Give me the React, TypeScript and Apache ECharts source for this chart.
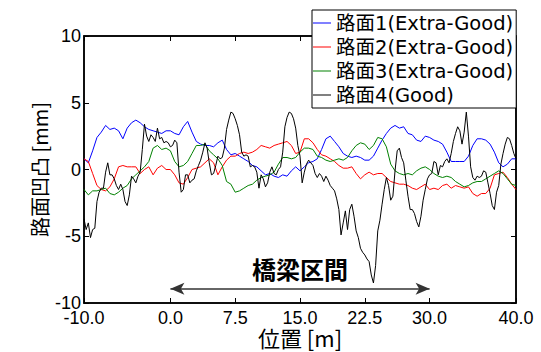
import React, { useEffect, useRef } from "react";
import * as echarts from "echarts";

// Positions (m): blue/red/green sampled every 0.5 m, black every 0.25 m
const POS_START = -10;
const POS_STEP_SMOOTH = 0.5;
const POS_STEP_ROUGH = 0.25;

const SERIES_NAMES = [
  "路面1(Extra-Good)",
  "路面2(Extra-Good)",
  "路面3(Extra-Good)",
  "路面4(Good)",
];
const SERIES_COLORS = ["#0000ff", "#ff0000", "#008000", "#000000"];

const road1 = [
  0.8, 0.5, 1.4, 2.4, 2.8, 3.3, 3.0, 3.1, 2.9, 2.3,
  3.1, 3.5, 3.7, 3.5, 3.2, 3.0, 2.9, 2.8, 2.7, 2.9,
  2.9, 2.7, 2.6, 3.2, 3.6, 2.8, 2.1, 1.9, 1.8, 1.8,
  1.7, 2.0, 2.2, 1.5, 1.1, 1.2, 1.0, 0.8, 0.6, 0.3,
  0.2, -0.1, -0.4, -0.3, -0.5, -0.6, -0.4, -0.5, -0.1, 0.2,
  -0.1, 0.2, 0.5, 0.6, 0.8, 1.5, 2.3, 2.5, 2.1, 1.7,
  1.2, 1.0, 0.9, 1.0, 0.9, 0.7, 0.7, 1.0, 1.6, 2.2,
  2.7, 3.1, 3.3, 3.1, 3.2, 2.7, 2.6, 2.2, 2.1, 2.5,
  2.4, 2.2, 2.1, 1.9, 1.3, 0.6, 0.6, 0.6, 0.6, 1.0,
  1.8, 2.3, 2.3, 2.2, 1.9, 1.3, 0.5, 0.2, 0.4, 0.8,
  0.8,
];

const road2 = [
  0.8, 0.6, -0.3, -1.2, -1.5, -1.6, -1.3, -0.7, 0.2, 0.3,
  0.2, 0.2, 0.2, -0.3, 0.0, 0.2, -0.4, 0.1, 0.3, 0.0,
  0.0, -0.4, -1.0, -1.1, -0.6, 0.0, 0.1, 0.2, 0.5, 0.8,
  0.5, -0.4, 0.2, 0.7, 1.0, 1.0, 1.2, 1.3, 1.2, 1.3,
  1.5, 1.8, 1.7, 1.6, 1.8, 1.9, 2.0, 2.1, 1.8, 1.2,
  1.3, 2.3, 2.3, 2.0, 1.5, 1.1, 1.0, 0.8, 0.6, 0.3,
  0.1, 0.1, 0.2, -0.3, -0.7, -0.4, -0.2, -0.4, -0.3, -0.3,
  -0.6, -0.9, -1.0, -1.1, -1.1, -1.2, -1.4, -1.5, -1.3, -1.1,
  -1.5, -1.4, -1.5, -1.2, -1.1, -1.4, -1.2, -1.3, -1.4, -1.3,
  -1.8, -2.0, -1.8, -1.8, -1.4, -0.4, -0.3, -0.2, -0.6, -1.1,
  -1.5,
];

const road3 = [
  -1.5, -1.9, -1.6, -1.6, -1.5, -1.4, -1.8, -1.9, -1.7, -1.4,
  -1.2, -0.7, -0.4, -0.1, 0.2, 0.6, 1.6, 1.8, 1.5, 1.6,
  1.4, 0.6, 0.2, 0.3, 0.6, 1.2, 1.8, 1.8, 1.9, 1.4,
  1.1, 0.8, 0.3, -0.9, -1.1, -1.7, -1.6, -1.4, -1.2, -1.1,
  -0.8, -0.6, -0.5, -0.4, -0.2, 0.4, 0.9, 0.9, 0.8, 0.9,
  1.3, 1.6, 1.6, 1.5, 1.0, 0.9, 0.7, 0.6, 0.7, 0.8,
  0.7, 0.9, 1.4, 1.8, 2.0, 1.9, 1.5, 1.8, 2.4, 2.3,
  1.7, 0.4, -0.1, -0.3, -0.4, -0.3, -0.4, -0.1, 0.1, 0.2,
  0.0, -0.3, -0.5, -0.6, -0.5, -0.6, -0.9, -1.1, -1.3, -1.2,
  -1.0, -0.9, -0.9, -0.7, -0.5, -0.3, -0.1, -0.3, -0.7, -1.1,
  -1.2,
];

const road4 = [
  -3.7, -4.5, -4.0, -5.1, -4.5, -4.4, -2.4, -1.7, -1.4, -1.4,
  -0.2, 0.5, -0.4, -0.4, -0.7, -1.2, -1.5, -1.1, -1.5, -2.4,
  -2.7, -1.9, -0.5, -0.7, -1.0, -0.5, -0.2, 1.5, 3.4, 2.5,
  2.1, 2.6, 2.4, 2.1, 3.1, 2.3, 2.4, 2.0, 2.1, 2.0,
  1.7, 1.8, 2.2, 2.0, -0.2, -1.7, -1.5, -0.4, -0.4, -1.0,
  -0.8, -0.7, -0.1, 0.3, 0.7, 1.3, 2.0, 1.6, 0.5, -0.4,
  -0.3, 0.3, 1.0, 0.8, 0.9, 1.6, 3.0, 3.7, 4.3, 4.2,
  3.8, 3.3, 2.6, 1.3, 1.0, 1.1, 1.0, 0.2, 0.3, 0.2,
  -0.2, -1.4, -0.4, -0.7, -1.3, -1.0, -0.2, 0.2, -0.3, -0.4,
  0.0, 0.2, 1.3, 3.2, 3.9, 4.3, 4.2, 3.8, 3.1, 1.8,
  1.0, -1.0, -0.2, 0.4, 0.7, 0.5, 0.3, -0.3, -0.6, -0.3,
  -0.5, -0.9, -0.5, -0.8, -1.2, -1.4, -1.6, -2.2, -3.0, -4.9,
  -4.0, -3.1, -4.5, -3.0, -2.6, -3.5, -4.6, -5.1, -5.9, -6.2,
  -6.4, -6.7, -6.9, -7.9, -8.5, -7.2, -4.6, -3.8, -2.6, -1.5,
  -0.6, -1.2, -2.3, -2.0, -0.1, 1.4, 1.6, 0.9, 0.5, -0.8,
  -2.0, -3.0, -3.0, -3.3, -3.9, -4.3, -3.5, -2.3, -1.5, -0.7,
  -0.4, -0.3, 0.6, 0.5, -0.4, 0.3, 0.2, 0.6, 0.8, 0.5,
  1.2, 2.1, 2.7, 3.2, 2.9, 1.9, 2.8, 4.3, 2.5, 0.2,
  -0.6, -0.8, -0.5, -0.6, -0.5, -0.1, -0.2, -1.0, -1.8, -2.7,
  -3.0, -1.7, -1.2, 0.4, 1.2, 1.9, 2.4, 2.3, 1.8, 1.2,
  0.8,
];

const X_TICKS = [-10, 0, 7.5, 15, 22.5, 30, 40];
const X_MIN = -10;
const X_MAX = 40;
const Y_MIN = -10;
const Y_MAX = 10;
const Y_INTERVAL = 5;

const BRIDGE_LABEL = "橋梁区間";
const BRIDGE_START = 0;
const BRIDGE_END = 30;
const BRIDGE_Y = -8.93;

const X_NAME = "位置 [m]";
const Y_NAME = "路面凹凸 [mm]";

const pairs = (vals: number[], step: number) =>
  vals.map((v, i) => [POS_START + i * step, v]);

const LATIN = "Arial, 'Liberation Sans', sans-serif";
const CJK = "'Noto Sans CJK JP', sans-serif";
const LEGEND_FONT = "'DejaVu Sans', 'Noto Sans CJK JP', sans-serif";

export default function App() {
  const ref = useRef<HTMLDivElement>(null);
  useEffect(() => {
    if (!ref.current) return;
    const chart = echarts.init(ref.current, null, { renderer: "svg" });
    const seriesData = [
      pairs(road1, POS_STEP_SMOOTH),
      pairs(road2, POS_STEP_SMOOTH),
      pairs(road3, POS_STEP_SMOOTH),
      pairs(road4, POS_STEP_ROUGH),
    ];
    const axisLine = { show: true, onZero: false, lineStyle: { color: "#000", width: 1.5 } };
    const tick = { show: true, inside: true, length: 5, lineStyle: { color: "#000", width: 1 } };
    chart.setOption({
      animation: false,
      backgroundColor: "#fff",
      grid: {
        left: 84,
        top: 36,
        width: 432,
        height: 267,
        show: true,
        borderColor: "#000",
        borderWidth: 1.5,
        backgroundColor: "transparent",
        outerBoundsMode: "none",
        containLabel: false,
      },
      legend: {
        data: SERIES_NAMES,
        orient: "vertical",
        left: 312,
        top: 10,
        z: 10,
        padding: [2, 3, 2, 1],
        itemGap: 2,
        itemWidth: 18,
        itemHeight: 1,
        icon: "rect",
        backgroundColor: "#fff",
        borderColor: "#000",
        borderWidth: 1,
        selectedMode: false,
        textStyle: { fontSize: 19.5, fontFamily: LEGEND_FONT, color: "#000", lineHeight: 22 },
      },
      xAxis: [
        {
          type: "value",
          min: X_MIN,
          max: X_MAX,
          position: "bottom",
          axisLine,
          axisTick: { ...tick, customValues: X_TICKS },
          axisLabel: {
            customValues: X_TICKS,
            formatter: (v: number) => v.toFixed(1),
            fontSize: 18,
            lineHeight: 16,
            fontFamily: LATIN,
            color: "#000",
            margin: 7,
          },
          splitLine: { show: false },
          name: X_NAME,
          nameLocation: "middle",
          nameGap: 23,
          nameMoveOverlap: false,
          nameTextStyle: { fontSize: 22, lineHeight: 22, fontFamily: CJK, color: "#000" },
        },
        {
          type: "value",
          min: X_MIN,
          max: X_MAX,
          position: "top",
          axisLine,
          axisTick: { ...tick, customValues: X_TICKS },
          axisLabel: { show: false },
          splitLine: { show: false },
        },
      ],
      yAxis: [
        {
          type: "value",
          min: Y_MIN,
          max: Y_MAX,
          interval: Y_INTERVAL,
          position: "left",
          axisLine,
          axisTick: tick,
          axisLabel: { fontSize: 18, lineHeight: 16, fontFamily: LATIN, color: "#000", margin: 3 },
          splitLine: { show: false },
          name: Y_NAME,
          nameLocation: "middle",
          nameGap: 35,
          nameMoveOverlap: false,
          nameTextStyle: { fontSize: 20, fontFamily: CJK, color: "#000" },
        },
        {
          type: "value",
          min: Y_MIN,
          max: Y_MAX,
          interval: Y_INTERVAL,
          position: "right",
          axisLine,
          axisTick: tick,
          axisLabel: { show: false },
          splitLine: { show: false },
        },
      ],
      series: seriesData.map((d, i) => ({
        name: SERIES_NAMES[i],
        type: "line",
        data: d,
        xAxisIndex: 0,
        yAxisIndex: 0,
        showSymbol: false,
        symbol: "none",
        color: SERIES_COLORS[i],
        lineStyle: { width: 1, color: SERIES_COLORS[i] },
        emphasis: { disabled: true },
        silent: true,
        markLine:
          i === 3
            ? {
                silent: true,
                symbol: ["arrow", "arrow"],
                symbolSize: [9, 14],
                lineStyle: { color: "#333", width: 1.5, type: "solid" },
                label: {
                  show: true,
                  position: "middle",
                  distance: 8,
                  formatter: BRIDGE_LABEL,
                  fontSize: 24,
                  fontWeight: "bold",
                  fontFamily: CJK,
                  color: "#000",
                },
                emphasis: { disabled: true },
                data: [[{ coord: [BRIDGE_START, BRIDGE_Y] }, { coord: [BRIDGE_END, BRIDGE_Y] }]],
              }
            : undefined,
      })),
    });
    return () => chart.dispose();
  }, []);
  return (
    <div
      ref={ref}
      style={{ position: "fixed", left: 0, top: 0, width: 541, height: 352, background: "#fff" }}
    />
  );
}
